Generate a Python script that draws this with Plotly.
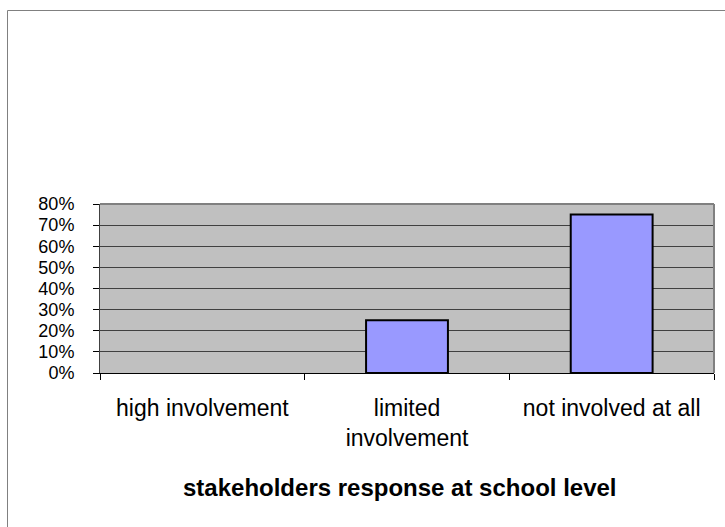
import plotly.graph_objects as go

categories = ["high involvement", "limited<br>involvement", "not involved at all"]
values = [0.0, 0.25, 0.75]
y_ticks = [0, 0.1, 0.2, 0.3, 0.4, 0.5, 0.6, 0.7, 0.8]
y_tick_labels = ["0%", "10%", "20%", "30%", "40%", "50%", "60%", "70%", "80%"]
x_title = "stakeholders response at school level"

W, H = 725, 527
L, R, T, B = 100, 11, 204, 154
pw, ph = W - L - R, H - T - B

fig = go.Figure(go.Bar(
    x=categories, y=values, width=0.4,
    marker=dict(color="#9999FF",
                line=dict(color="#000000", width=[0 if v == 0 else 2 for v in values])),
))

def px2paper_x(px):
    return (px - L) / pw

def px2paper_y(py):
    return (H - B - py) / ph

fig.update_layout(
    width=W, height=H,
    margin=dict(l=L, r=R, t=T, b=B),
    paper_bgcolor="white",
    plot_bgcolor="#C0C0C0",
    showlegend=False,
    font=dict(family="Liberation Sans, Arial, sans-serif", color="#000000"),
    xaxis=dict(
        type="category", tickson="boundaries", ticks="outside", ticklen=6,
        tickcolor="#000000", showline=True, linecolor="#000000", linewidth=1,
        tickfont=dict(size=23), showgrid=False, ticklabelstandoff=14,
    ),
    yaxis=dict(
        range=[0, 0.8], tickvals=y_ticks, ticktext=y_tick_labels,
        ticks="outside", ticklen=6, tickcolor="#000000",
        showline=True, linecolor="#404040", linewidth=1,
        showgrid=True, gridcolor="#404040", gridwidth=1,
        tickfont=dict(size=18), zeroline=False, ticklabelstandoff=15,
    ),
    annotations=[
        dict(text="<b>" + x_title + "</b>", xref="paper", yref="paper",
             x=px2paper_x(400), y=px2paper_y(487), xanchor="center", yanchor="middle",
             showarrow=False, font=dict(size=24)),
    ],
    shapes=[
        # plot area border (top and right)
        dict(type="line", xref="paper", yref="paper", x0=0, x1=1, y0=1, y1=1,
             line=dict(color="#808080", width=2)),
        dict(type="line", xref="paper", yref="paper", x0=1, x1=1, y0=0, y1=1,
             line=dict(color="#808080", width=2)),
        # outer chart frame
        dict(type="line", xref="paper", yref="paper",
             x0=px2paper_x(7.5), x1=px2paper_x(730), y0=px2paper_y(10.5), y1=px2paper_y(10.5),
             line=dict(color="#808080", width=1)),
        dict(type="line", xref="paper", yref="paper",
             x0=px2paper_x(7.5), x1=px2paper_x(7.5), y0=px2paper_y(10.5), y1=px2paper_y(530),
             line=dict(color="#808080", width=1)),
    ],
)

fig.write_html("out.html")
